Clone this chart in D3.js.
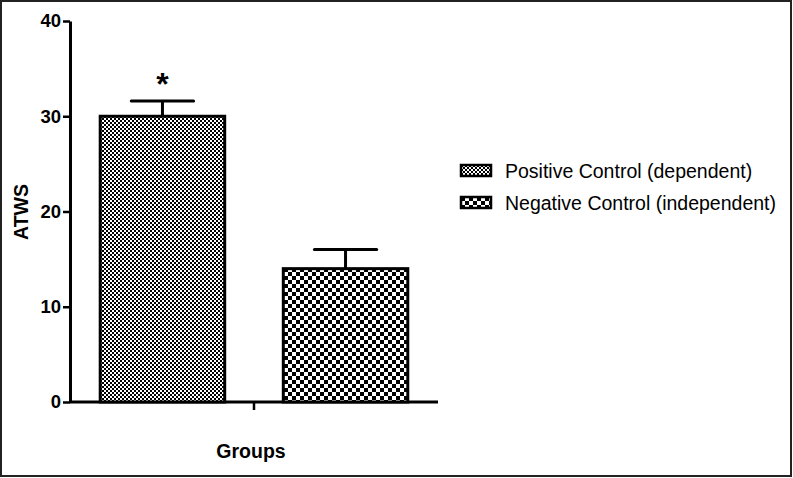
<!DOCTYPE html>
<html>
<head>
<meta charset="utf-8">
<script src="https://cdn.jsdelivr.net/npm/d3@7"></script>
<style>
  body { margin: 0; background: #fff; }
  svg { display: block; font-family: Arial, "Liberation Sans", sans-serif; }
</style>
</head>
<body>
<div id="chart"></div>
<script>
// Data
const groups = ["Positive Control (dependent)", "Negative Control (independent)"];
const means = [30, 14];
const errors = [1.6, 2.0];
const marks = ["*", ""];
const yTicks = [0, 10, 20, 30, 40];

const width = 793, height = 478;

const svg = d3.select("#chart").append("svg")
    .attr("width", width)
    .attr("height", height);

// outer frame
svg.append("rect")
    .attr("x", 1).attr("y", 1)
    .attr("width", width - 3).attr("height", height - 3)
    .attr("fill", "none")
    .attr("stroke", "#222")
    .attr("stroke-width", 2);

// patterns: fine and coarse checkerboard
const defs = svg.append("defs");
function checker(id, size) {
    const p = defs.append("pattern")
        .attr("id", id)
        .attr("patternUnits", "userSpaceOnUse")
        .attr("width", size * 2).attr("height", size * 2);
    p.append("rect").attr("width", size * 2).attr("height", size * 2).attr("fill", "#fff");
    p.append("rect").attr("width", size).attr("height", size).attr("fill", "#000");
    p.append("rect").attr("x", size).attr("y", size).attr("width", size).attr("height", size).attr("fill", "#000");
}
checker("pat0", 2);
checker("pat1", 4);
const fills = ["url(#pat0)", "url(#pat1)"];

// scales
const x = d3.scaleBand()
    .domain(groups)
    .range([70, 438])
    .paddingInner(0.32)
    .paddingOuter(0.165);

const y = d3.scaleLinear()
    .domain([0, 40])
    .range([402, 21]);

// y axis
const yAxis = svg.append("g")
    .attr("transform", "translate(70,0)")
    .call(d3.axisLeft(y).tickValues(yTicks).tickSize(7).tickPadding(2).tickSizeOuter(0));
yAxis.select(".domain").attr("stroke-width", 3);
yAxis.selectAll(".tick line").attr("stroke-width", 2.5);
yAxis.selectAll(".tick text")
    .attr("font-size", 18.5)
    .attr("font-weight", "bold")
    .attr("fill", "#000")
    .attr("font-family", "Arial, 'Liberation Sans', sans-serif");

// x axis: single centre tick
svg.append("line")
    .attr("x1", 70).attr("x2", 438)
    .attr("y1", y(0)).attr("y2", y(0))
    .attr("stroke", "#000").attr("stroke-width", 3);
svg.append("line")
    .attr("x1", (70 + 438) / 2).attr("x2", (70 + 438) / 2)
    .attr("y1", y(0)).attr("y2", y(0) + 8)
    .attr("stroke", "#000").attr("stroke-width", 2.5);

// error bars (upper side only)
const err = svg.selectAll(".err")
    .data(groups)
    .enter().append("g")
    .attr("class", "err");
err.append("line")
    .attr("x1", d => x(d) + x.bandwidth() / 2)
    .attr("x2", d => x(d) + x.bandwidth() / 2)
    .attr("y1", (d, i) => y(means[i]))
    .attr("y2", (d, i) => y(means[i] + errors[i]))
    .attr("stroke", "#000").attr("stroke-width", 3);
err.append("line")
    .attr("x1", d => x(d) + x.bandwidth() / 4)
    .attr("x2", d => x(d) + x.bandwidth() * 3 / 4)
    .attr("y1", (d, i) => y(means[i] + errors[i]))
    .attr("y2", (d, i) => y(means[i] + errors[i]))
    .attr("stroke", "#000").attr("stroke-width", 3)
    .attr("stroke-linecap", "round");

// bars
svg.selectAll(".bar")
    .data(groups)
    .enter().append("rect")
    .attr("class", "bar")
    .attr("x", d => x(d))
    .attr("width", x.bandwidth())
    .attr("y", (d, i) => y(means[i]))
    .attr("height", (d, i) => y(0) - y(means[i]))
    .attr("fill", (d, i) => fills[i])
    .attr("stroke", "#000")
    .attr("stroke-width", 3);

// significance marks
svg.selectAll(".mark")
    .data(groups)
    .enter().append("text")
    .attr("class", "mark")
    .attr("x", d => x(d) + x.bandwidth() / 2)
    .attr("y", (d, i) => y(means[i] + errors[i]) - 6)
    .attr("text-anchor", "middle")
    .attr("font-size", 32)
    .attr("font-weight", "bold")
    .text((d, i) => marks[i]);

// axis titles
svg.append("text")
    .attr("transform", "translate(28,212) rotate(-90)")
    .attr("text-anchor", "middle")
    .attr("font-size", 19.5)
    .attr("font-weight", "bold")
    .text("ATWS");

svg.append("text")
    .attr("x", 251).attr("y", 458)
    .attr("text-anchor", "middle")
    .attr("font-size", 19.5)
    .attr("font-weight", "bold")
    .text("Groups");

// legend
const legend = svg.selectAll(".legend")
    .data(groups)
    .enter().append("g")
    .attr("class", "legend")
    .attr("transform", (d, i) => `translate(461,${165 + i * 32})`);
legend.append("rect")
    .attr("width", 30).attr("height", 11)
    .attr("fill", (d, i) => fills[i])
    .attr("stroke", "#000")
    .attr("stroke-width", 2.5);
legend.append("text")
    .attr("x", 44).attr("y", 13)
    .attr("font-size", 19.5)
    .text(d => d);
</script>
</body>
</html>
